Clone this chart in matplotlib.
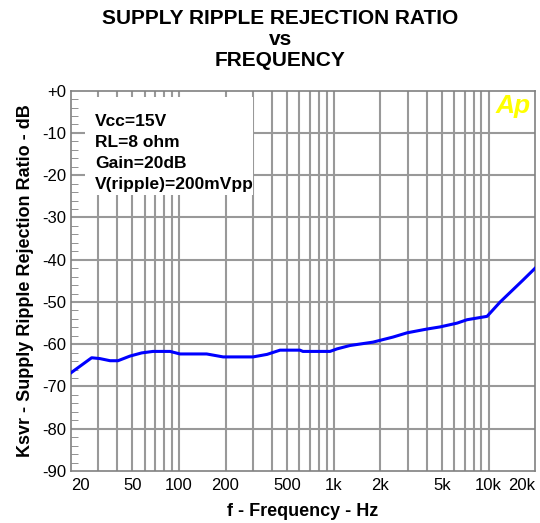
import matplotlib
matplotlib.use('Agg')
import matplotlib.pyplot as plt
from matplotlib.patches import Rectangle

# curve (Hz, dB)
freq = [20, 27.3, 30.9, 35.9, 40.4, 48.3, 57.5, 68, 87.6, 101.6, 151, 193,
        301, 371, 450, 605, 632, 946, 1050, 1274, 1794, 2416, 2974, 4006,
        4864, 6266, 7262, 9786, 11886, 16714, 20000]
ksvr = [-66.8, -63.2, -63.4, -63.9, -63.9, -62.8, -62.05, -61.7, -61.7, -62.3,
        -62.3, -63.0, -63.0, -62.4, -61.4, -61.4, -61.7, -61.7, -61.1, -60.3,
        -59.5, -58.3, -57.3, -56.4, -55.9, -55.0, -54.2, -53.4, -50.0, -44.8, -42.0]

xtick_vals = [20, 50, 100, 200, 500, 1000, 2000, 5000, 10000, 20000]
xtick_labels = ['20', '50', '100', '200', '500', '1k', '2k', '5k', '10k', '20k']
ytick_vals = list(range(0, -100, -10))
ytick_labels = ['+0'] + [str(v) for v in ytick_vals[1:]]
conditions = "Vcc=15V\nRL=8 ohm\nGain=20dB\nV(ripple)=200mVpp"

plt.rcParams['font.family'] = ['Liberation Sans', 'DejaVu Sans']

fig = plt.figure(figsize=(5.4, 5.23), dpi=100)
ax = fig.add_axes([0.131, 0.0994, 0.86, 0.7272])

ax.set_xscale('log')
ax.set_xlim(20, 20000)
ax.set_ylim(-90, 0)

grid_c = '#999999'
# vertical grid at 1..9 x decade
for dec in [10, 100, 1000, 10000]:
    for m in range(1, 10):
        f = dec * m
        if 20 < f < 20000:
            ax.axvline(f, color=grid_c, lw=1.5, zorder=1)
for v in ytick_vals[1:-1]:
    ax.axhline(v, color=grid_c, lw=1.5, zorder=1)

# white boxes behind the notes and the logo
ax.add_patch(Rectangle((0.031, 0.726), 0.362, 0.257, transform=ax.transAxes,
                       facecolor='white', edgecolor='none', zorder=2))
ax.add_patch(Rectangle((0.945, 0.905), 0.055, 0.095, transform=ax.transAxes,
                       facecolor='white', edgecolor='none', zorder=2))

ax.plot(freq, ksvr, color='#0000ff', lw=2.2, zorder=3)

ax.text(0.052, 0.94, conditions, transform=ax.transAxes, ha='left', va='top',
        fontsize=12.5, fontweight='bold', linespacing=1.5, zorder=4)
ax.text(0.99, 0.99, 'Ap', transform=ax.transAxes, ha='right', va='top',
        fontsize=19, fontweight='bold', style='italic', color='#ffff00', zorder=4)

ax.set_xticks(xtick_vals)
ax.set_xticklabels(xtick_labels)
ax.minorticks_off()
ax.set_yticks(ytick_vals)
ax.set_yticklabels(ytick_labels)
ax.set_yticks(list(range(-88, 0, 2)), minor=True)
ax.tick_params(axis='x', which='both', length=0, pad=5, labelsize=12)
ax.tick_params(axis='y', which='major', length=0, pad=3, labelsize=12)
ax.tick_params(axis='y', which='minor', direction='in', length=5, color='#808080')
xl = ax.get_xticklabels()
xl[0].set_ha('left')
xl[-1].set_ha('right')

for s in ax.spines.values():
    s.set_color('#808080')
    s.set_linewidth(1.2)

ax.set_xlabel('f - Frequency - Hz', fontsize=13, fontweight='bold', labelpad=7)
ax.set_ylabel('Ksvr - Supply Ripple Rejection Ratio - dB', fontsize=13,
              fontweight='bold', labelpad=6)

fig.text(0.519, 0.983, 'SUPPLY RIPPLE REJECTION RATIO\nvs\nFREQUENCY', ha='center',
         va='top', fontsize=15, fontweight='bold', linespacing=1.15)

fig.savefig('out.png', dpi=100)
